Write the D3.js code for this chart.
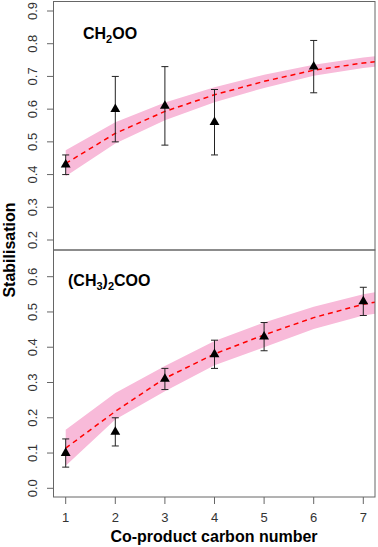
<!DOCTYPE html>
<html><head><meta charset="utf-8">
<script src="https://cdn.jsdelivr.net/npm/d3@7"></script>
<style>html,body{margin:0;padding:0;background:#fff;}svg{display:block;font-family:"Liberation Sans",Arial,sans-serif;}</style>
</head><body>
<script>
// ---- data ----
const xTicks = [1,2,3,4,5,6,7];
// CH2OO panel
const topX = [1,2,3,4,6];
const topY = [0.43,0.60,0.61,0.56,0.73];
const topErrLo = [0.40,0.50,0.49,0.46,0.65];
const topErrHi = [0.46,0.70,0.73,0.66,0.81];
const fitX = [1,2,3,4,5,6,7,8];
const topFit = [0.434,0.526,0.593,0.644,0.685,0.719,0.741,0.756];
const topFitLo = [0.395,0.495,0.566,0.621,0.665,0.702,0.726,0.742];
const topFitHi = [0.474,0.560,0.620,0.667,0.705,0.736,0.758,0.772];
const topTicks = [0.2,0.3,0.4,0.5,0.6,0.7,0.8,0.9];
// (CH3)2COO panel
const botX = [1,2,3,4,5,7];
const botY = [0.10,0.16,0.31,0.38,0.43,0.53];
const botErrLo = [0.06,0.12,0.28,0.34,0.39,0.49];
const botErrHi = [0.14,0.20,0.34,0.42,0.47,0.57];
const botFit = [0.114,0.218,0.312,0.381,0.435,0.484,0.522,0.545];
const botFitLo = [0.064,0.195,0.275,0.349,0.400,0.452,0.490,0.512];
const botFitHi = [0.166,0.270,0.347,0.418,0.470,0.515,0.550,0.575];
const botTicks = [0.0,0.1,0.2,0.3,0.4,0.5,0.6];

const W = 378, H = 547;
const L = 53.5, R = 375;
const svg = d3.select("body").append("svg").attr("width", W).attr("height", H);

const x = d3.scaleLinear().domain([1,7]).range([65.7,363.3]);

const panels = [
  {top:1.5, bottom:250, y:d3.scaleLinear().domain([0.2,0.9]).range([240,11]), ticks:topTicks,
   px:topX, py:topY, lo:topErrLo, hi:topErrHi, fit:topFit, flo:topFitLo, fhi:topFitHi,
   label:["CH","2","OO"], lx:83, ly:39},
  {top:250, bottom:497, y:d3.scaleLinear().domain([0,0.6]).range([488.3,276.7]), ticks:botTicks,
   px:botX, py:botY, lo:botErrLo, hi:botErrHi, fit:botFit, flo:botFitLo, fhi:botFitHi,
   label:["(CH","3",")","2","COO"], lx:68, ly:286}
];

panels.forEach((p,i) => {
  const g = svg.append("g");
  const cid = "clip"+i;
  svg.append("clipPath").attr("id",cid).append("rect")
    .attr("x",L).attr("y",p.top).attr("width",R-L).attr("height",p.bottom-p.top);
  const cg = g.append("g").attr("clip-path",`url(#${cid})`);
  const band = d3.area().x((d,j)=>x(fitX[j])).y0((d,j)=>p.y(p.flo[j])).y1((d,j)=>p.y(p.fhi[j]));
  cg.append("path").datum(fitX).attr("d",band).attr("fill","#f8bad9");
  const line = d3.line().x((d,j)=>x(fitX[j])).y((d,j)=>p.y(p.fit[j]));
  cg.append("path").datum(fitX).attr("d",line).attr("fill","none")
    .attr("stroke","#ff0000").attr("stroke-width",1.5).attr("stroke-dasharray","5,4");
  // error bars
  p.px.forEach((xv,j)=>{
    const xx = x(xv);
    g.append("line").attr("x1",xx).attr("x2",xx).attr("y1",p.y(p.lo[j])).attr("y2",p.y(p.hi[j]))
      .attr("stroke","#222").attr("stroke-width",1);
    [p.lo[j],p.hi[j]].forEach(v=>{
      g.append("line").attr("x1",xx-3.5).attr("x2",xx+3.5).attr("y1",p.y(v)).attr("y2",p.y(v))
        .attr("stroke","#222").attr("stroke-width",1);
    });
    g.append("path").attr("d",d3.symbol(d3.symbolTriangle,42)())
      .attr("transform",`translate(${xx},${p.y(p.py[j])})`).attr("fill","#000");
  });
  // frame
  g.append("rect").attr("x",L).attr("y",p.top).attr("width",R-L).attr("height",p.bottom-p.top)
    .attr("fill","none").attr("stroke","#666").attr("stroke-width",1);
  // y axis
  p.ticks.forEach(t=>{
    const yy = p.y(t);
    g.append("line").attr("x1",L-6.5).attr("x2",L).attr("y1",yy).attr("y2",yy).attr("stroke","#666");
    g.append("text").attr("transform",`translate(37,${yy}) rotate(-90)`).attr("text-anchor","middle")
      .attr("font-size",13).attr("fill","#333").text(t.toFixed(1));
  });
  // label
  const tx = g.append("text").attr("x",p.lx).attr("y",p.ly).attr("font-size",16).attr("font-weight","bold").attr("fill","#000");
  p.label.forEach((s,k)=>{
    const sub = /^[0-9]$/.test(s);
    tx.append("tspan").attr("font-size",sub?11:16).attr("dy",sub?4:(k>0?-4:0)).text(s);
  });
});

// x axis
xTicks.forEach(t=>{
  svg.append("line").attr("x1",x(t)).attr("x2",x(t)).attr("y1",497).attr("y2",504).attr("stroke","#666");
  svg.append("text").attr("x",x(t)).attr("y",522).attr("text-anchor","middle")
    .attr("font-size",13).attr("fill","#333").text(t);
});
svg.append("text").attr("x",214).attr("y",542).attr("text-anchor","middle")
  .attr("font-size",16).attr("font-weight","bold").text("Co-product carbon number");
svg.append("text").attr("transform","translate(15,250) rotate(-90)").attr("text-anchor","middle")
  .attr("font-size",16).attr("font-weight","bold").text("Stabilisation");
</script>
</body></html>
